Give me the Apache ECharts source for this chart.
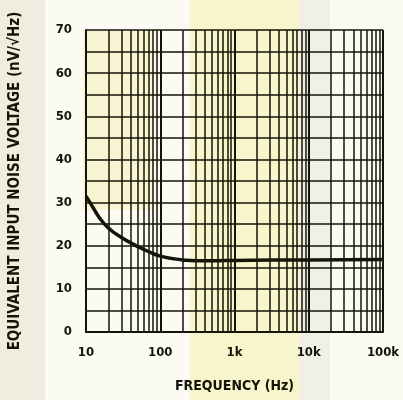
<!DOCTYPE html>
<html>
<head>
<meta charset="utf-8">
<script src="https://cdn.jsdelivr.net/npm/echarts@6/dist/echarts.min.js"></script>
<style>
  html, body { margin: 0; padding: 0; background: #fbfaf3; }
  #main { width: 403px; height: 400px; }
</style>
</head>
<body>
<div id="main"></div>
<script>
// frequency (Hz) and noise voltage (nV/rtHz)
var freq = [10, 12, 15, 20, 30, 50, 70, 100, 150, 200, 300, 500, 1000, 10000, 100000]
var noise = [31.5, 29.3, 26.6, 24.1, 21.9, 19.8, 18.6, 17.6, 17.0, 16.7, 16.5, 16.5, 16.6, 16.7, 16.8]

// log grid lines inside each decade
var minorFreq = [20, 30, 40, 50, 60, 70, 80, 90,
  200, 300, 400, 500, 600, 700, 800, 900,
  2000, 3000, 4000, 5000, 6000, 7000, 8000, 9000,
  20000, 30000, 40000, 50000, 60000, 70000, 80000, 90000]
var xTickLabels = { 10: '10', 100: '100', 1000: '1k', 10000: '10k', 100000: '100k' }

var font = '"DejaVu Sans Condensed", "Liberation Sans Narrow", sans-serif'
var ink = '#141408'

var myChart = echarts.init(document.getElementById('main'))
var option = {
  backgroundColor: '#fbfaf3',
  animation: false,
  // scan watermark tint behind the grid
  graphic: [
    { type: 'rect', z: -10, shape: { x: 190, y: 0, width: 110, height: 400 }, style: { fill: 'rgba(246,238,170,0.55)' } },
    { type: 'rect', z: -10, shape: { x: 83, y: 30, width: 70, height: 180 }, style: { fill: 'rgba(246,238,170,0.45)' } },
    { type: 'rect', z: -10, shape: { x: 0, y: 0, width: 45, height: 400 }, style: { fill: 'rgba(225,222,200,0.45)' } },
    { type: 'rect', z: -10, shape: { x: 300, y: 0, width: 30, height: 400 }, style: { fill: 'rgba(220,220,215,0.35)' } }
  ],
  grid: { left: 83, right: 20, top: 30, bottom: 68 },
  xAxis: {
    type: 'log',
    logBase: 10,
    min: 10,
    max: 100000,
    name: 'FREQUENCY (Hz)',
    nameLocation: 'middle',
    nameGap: 47,
    nameTextStyle: { color: ink, fontFamily: font, fontWeight: 'bold', fontSize: 14 },
    axisLine: { show: true, lineStyle: { color: ink, width: 2 } },
    axisTick: { show: false },
    axisLabel: {
      color: ink, fontFamily: font, fontWeight: 'bold', fontSize: 13, margin: 14,
      formatter: function (v) { return xTickLabels[Math.round(v)] || '' }
    },
    splitLine: { show: true, lineStyle: { color: ink, width: 2 } }
  },
  yAxis: {
    type: 'value',
    min: 0,
    max: 70,
    interval: 5,
    name: 'EQUIVALENT INPUT NOISE VOLTAGE (nV/√Hz)',
    nameLocation: 'middle',
    nameGap: 63,
    nameTextStyle: { color: ink, fontFamily: font, fontWeight: 'bold', fontSize: 15 },
    axisLine: { show: true, lineStyle: { color: ink, width: 2 } },
    axisTick: { show: false },
    axisLabel: {
      color: ink, fontFamily: font, fontWeight: 'bold', fontSize: 13, margin: 14,
      formatter: function (v) { return v % 10 === 0 ? String(v) : '' }
    },
    splitLine: { show: true, lineStyle: { color: ink, width: 1.5 } }
  },
  series: [
    {
      type: 'line',
      data: freq.map(function (f, i) { return [f, noise[i]] }),
      smooth: true,
      symbol: 'none',
      lineStyle: { color: ink, width: 3.5 },
      z: 5,
      markLine: {
        silent: true,
        symbol: 'none',
        label: { show: false },
        lineStyle: { color: ink, width: 1.5, type: 'solid' },
        data: minorFreq.map(function (f) { return { xAxis: f } })
      }
    }
  ]
}
myChart.setOption(option)
</script>
</body>
</html>
